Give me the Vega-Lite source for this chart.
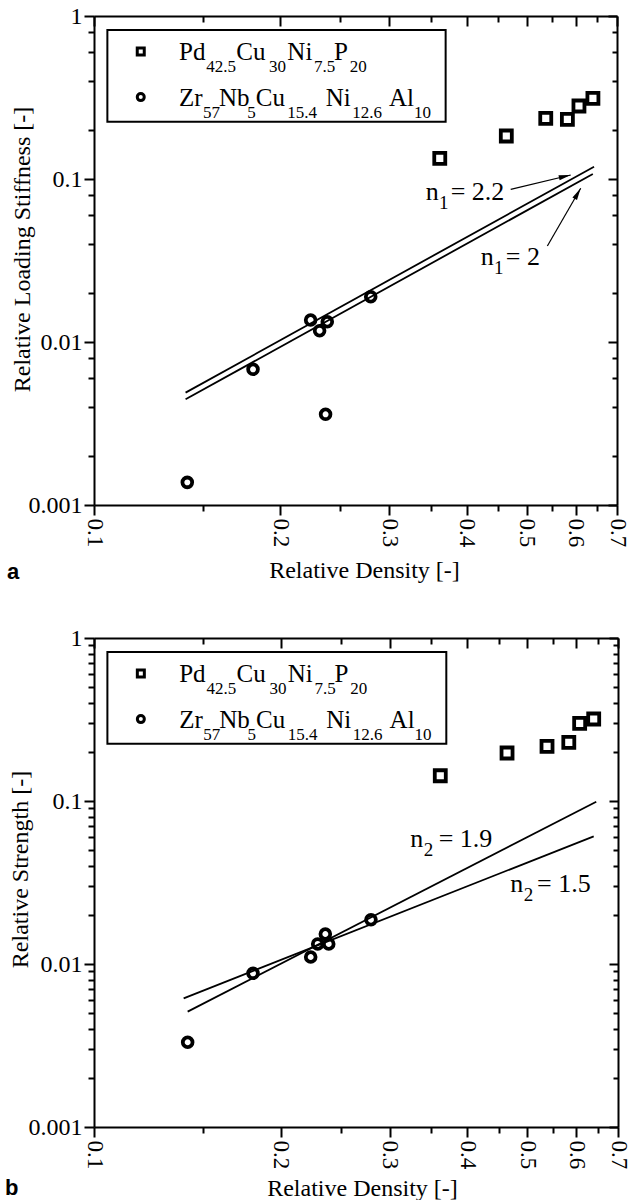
{
  "$schema": "https://vega.github.io/schema/vega-lite/v6.json",
  "padding": {"left": 5, "top": 4, "right": 5, "bottom": 0},
  "background": "white",
  "config": {
    "view": {"stroke": null},
    "font": "Liberation Serif",
    "style": {"guide-label": {"font": "Liberation Serif"}, "guide-title": {"font": "Liberation Serif"}},
    "axis": {"domainColor": "black", "domainWidth": 2, "tickColor": "black", "tickWidth": 2, "labelColor": "black", "titleColor": "black", "labelFont": "Liberation Serif", "titleFont": "Liberation Serif", "labelFontSize": 24, "titleFontSize": 24, "titleFontWeight": "normal", "grid": false, "labelFlush": false, "labelOverlap": false}
  },
  "datasets": {
    "ptsA": [
      {"alloy": "Pd", "x": 0.362, "y": 0.134}, {"alloy": "Pd", "x": 0.4637, "y": 0.1836}, {"alloy": "Pd", "x": 0.537, "y": 0.2357}, {"alloy": "Pd", "x": 0.582, "y": 0.2324}, {"alloy": "Pd", "x": 0.6076, "y": 0.2805}, {"alloy": "Pd", "x": 0.64, "y": 0.3126},
      {"alloy": "Zr", "x": 0.1415, "y": 0.001377}, {"alloy": "Zr", "x": 0.1807, "y": 0.0068}, {"alloy": "Zr", "x": 0.2239, "y": 0.01364}, {"alloy": "Zr", "x": 0.2315, "y": 0.01173}, {"alloy": "Zr", "x": 0.2382, "y": 0.01332}, {"alloy": "Zr", "x": 0.2367, "y": 0.0036}, {"alloy": "Zr", "x": 0.28, "y": 0.01897}
    ],
    "ptsB": [
      {"alloy": "Pd", "x": 0.3618, "y": 0.1429}, {"alloy": "Pd", "x": 0.4636, "y": 0.197}, {"alloy": "Pd", "x": 0.5378, "y": 0.2166}, {"alloy": "Pd", "x": 0.5831, "y": 0.2291}, {"alloy": "Pd", "x": 0.6071, "y": 0.2997}, {"alloy": "Pd", "x": 0.6396, "y": 0.3185},
      {"alloy": "Zr", "x": 0.1416, "y": 0.00331}, {"alloy": "Zr", "x": 0.1805, "y": 0.00877}, {"alloy": "Zr", "x": 0.2236, "y": 0.01104}, {"alloy": "Zr", "x": 0.2295, "y": 0.01327}, {"alloy": "Zr", "x": 0.2361, "y": 0.01528}, {"alloy": "Zr", "x": 0.2391, "y": 0.01327}, {"alloy": "Zr", "x": 0.2797, "y": 0.0187}
    ],
    "fitA": [
      {"n": "2.2", "x": 0.1406, "y": 0.00489}, {"n": "2.2", "x": 0.6427, "y": 0.119},
      {"n": "2", "x": 0.1406, "y": 0.00445}, {"n": "2", "x": 0.6398, "y": 0.1074}
    ],
    "fitB": [
      {"n": "1.9", "x": 0.1416, "y": 0.0051}, {"n": "1.9", "x": 0.6457, "y": 0.099},
      {"n": "1.5", "x": 0.1395, "y": 0.00616}, {"n": "1.5", "x": 0.6396, "y": 0.0607}
    ],
    "legBox": [{"x": 0.1051, "x2": 0.37, "y": 0.8206, "y2": 0.2246}],
    "legSym": [{"alloy": "Pd", "x": 0.119, "y": 0.605}, {"alloy": "Zr", "x": 0.119, "y": 0.318}],
    "legText": [
      {"t": "Pd", "sub": false, "x": 0.13719, "y": 0.537}, {"t": "42.5", "sub": true, "x": 0.15187, "y": 0.537},
      {"t": "Cu", "sub": false, "x": 0.16978, "y": 0.537}, {"t": "30", "sub": true, "x": 0.19181, "y": 0.537},
      {"t": "Ni", "sub": false, "x": 0.2053, "y": 0.537}, {"t": "7.5", "sub": true, "x": 0.22675, "y": 0.537},
      {"t": "P", "sub": false, "x": 0.24429, "y": 0.537}, {"t": "20", "sub": true, "x": 0.25895, "y": 0.537},
      {"t": "Zr", "sub": false, "x": 0.13719, "y": 0.2805}, {"t": "57", "sub": true, "x": 0.15002, "y": 0.2805},
      {"t": "Nb", "sub": false, "x": 0.15923, "y": 0.2805}, {"t": "5", "sub": true, "x": 0.17689, "y": 0.2805},
      {"t": "Cu", "sub": false, "x": 0.18252, "y": 0.2805}, {"t": "15.4", "sub": true, "x": 0.2053, "y": 0.2805},
      {"t": "Ni", "sub": false, "x": 0.23684, "y": 0.2805}, {"t": "12.6", "sub": true, "x": 0.26147, "y": 0.2805},
      {"t": "Al", "sub": false, "x": 0.29976, "y": 0.2805}, {"t": "10", "sub": true, "x": 0.32889, "y": 0.2805}
    ],
    "annA": [
      {"t": "n", "sub": false, "x": 0.34356, "y": 0.07434}, {"t": "1", "sub": true, "x": 0.36096, "y": 0.07434}, {"t": "= 2.2", "sub": false, "x": 0.37704, "y": 0.07434},
      {"t": "n", "sub": false, "x": 0.42159, "y": 0.02968}, {"t": "1", "sub": true, "x": 0.44295, "y": 0.02968}, {"t": "= 2", "sub": false, "x": 0.46269, "y": 0.02968}
    ],
    "annB": [
      {"t": "n", "sub": false, "x": 0.32366, "y": 0.05221}, {"t": "2", "sub": true, "x": 0.34017, "y": 0.05221}, {"t": "= 1.9", "sub": false, "x": 0.35966, "y": 0.05221},
      {"t": "n", "sub": false, "x": 0.46926, "y": 0.02765}, {"t": "2", "sub": true, "x": 0.49322, "y": 0.02765}, {"t": "= 1.5", "sub": false, "x": 0.51818, "y": 0.02765}
    ],
    "arrows": [
      {"id": 1, "x": 0.47135, "y": 0.08644, "x2": 0.58924, "y2": 0.10581},
      {"id": 2, "x": 0.54022, "y": 0.03881, "x2": 0.61157, "y2": 0.08768}
    ]
  },
  "vconcat": [
    {
      "width": 523,
      "height": 489,
      "title": {"text": "a", "orient": "bottom", "anchor": "start", "frame": "bounds", "font": "Liberation Sans", "fontWeight": "bold", "fontSize": 22, "baseline": "alphabetic", "offset": -3, "dx": -3, "color": "black"},
      "layer": [
        {
          "data": {"name": "fitA"},
          "mark": {"type": "line", "color": "black", "strokeWidth": 1.8},
          "encoding": {
            "x": {"field": "x", "type": "quantitative", "scale": {"type": "log", "domain": [0.1, 0.7], "nice": false},
              "axis": {"orient": "bottom", "values": [0.1, 0.15, 0.2, 0.25, 0.3, 0.35, 0.4, 0.45, 0.5, 0.55, 0.6, 0.65, 0.7],
                "labelExpr": "abs(datum.value*10 - round(datum.value*10)) < 0.01 ? format(datum.value, '.1f') : ''",
                "labelFont": "Liberation Serif", "titleFont": "Liberation Serif", "labelFontSize": 23, "titleFontSize": 24,
                "labelAngle": 90, "labelAlign": "left", "labelBaseline": "middle", "labelPadding": 3,
                "tickSize": {"condition": {"test": "abs(datum.value*10 - round(datum.value*10)) > 0.01", "value": 6}, "value": 10},
                "title": "Relative Density [-]", "titleX": 270, "titleY": 72, "titleBaseline": "alphabetic"}},
            "y": {"field": "y", "type": "quantitative", "scale": {"type": "log", "domain": [0.001, 1], "nice": false},
              "axis": {"orient": "left", "values": [0.001, 0.002, 0.004, 0.006, 0.008, 0.01, 0.02, 0.04, 0.06, 0.08, 0.1, 0.2, 0.4, 0.6, 0.8, 1],
                "format": "~g",
                "labelFont": "Liberation Serif", "titleFont": "Liberation Serif", "labelFontSize": 24, "titleFontSize": 24,
                "labelExpr": "abs(log(datum.value)/LN10 - round(log(datum.value)/LN10)) < 0.001 ? datum.label : ''",
                "labelPadding": 2,
                "tickSize": {"condition": {"test": "abs(log(datum.value)/LN10 - round(log(datum.value)/LN10)) > 0.001", "value": 6}, "value": 10},
                "title": "Relative Loading Stiffness [-]", "titleX": -60, "titleY": 233}},
            "detail": {"field": "n", "type": "nominal"}
          }
        },
        {
          "data": {"name": "ptsA"},
          "mark": {"type": "point", "filled": false, "color": "black", "strokeWidth": 3.8, "opacity": 1},
          "encoding": {
            "x": {"field": "x", "type": "quantitative",
              "axis": {"orient": "top", "values": [0.1, 0.15, 0.2, 0.25, 0.3, 0.35, 0.4, 0.45, 0.5, 0.55, 0.6, 0.65, 0.7], "labels": false, "title": null,
                "tickSize": {"condition": {"test": "abs(datum.value*10 - round(datum.value*10)) > 0.01", "value": -6}, "value": -10}}},
            "y": {"field": "y", "type": "quantitative",
              "axis": {"orient": "right", "values": [0.001, 0.002, 0.004, 0.006, 0.008, 0.01, 0.02, 0.04, 0.06, 0.08, 0.1, 0.2, 0.4, 0.6, 0.8, 1], "labels": false, "title": null,
                "tickSize": {"condition": {"test": "abs(log(datum.value)/LN10 - round(log(datum.value)/LN10)) > 0.001", "value": -5}, "value": -9}}},
            "shape": {"field": "alloy", "type": "nominal", "scale": {"domain": ["Pd", "Zr"], "range": ["square", "circle"]}, "legend": null},
            "size": {"field": "alloy", "type": "nominal", "scale": {"domain": ["Pd", "Zr"], "range": [121, 95]}, "legend": null}
          }
        },
        {
          "data": {"name": "legBox"},
          "mark": {"type": "rect", "fill": "white", "stroke": "black", "strokeWidth": 2},
          "encoding": {
            "x": {"field": "x", "type": "quantitative", "axis": null}, "x2": {"field": "x2"},
            "y": {"field": "y", "type": "quantitative", "axis": null}, "y2": {"field": "y2"}
          }
        },
        {
          "data": {"name": "legSym"},
          "mark": {"type": "point", "filled": false, "color": "black", "strokeWidth": 3, "opacity": 1},
          "encoding": {
            "x": {"field": "x", "type": "quantitative", "axis": null},
            "y": {"field": "y", "type": "quantitative", "axis": null},
            "shape": {"field": "alloy", "type": "nominal", "legend": null},
            "size": {"value": 49}
          }
        },
        {
          "data": {"name": "legText"},
          "transform": [{"filter": "!datum.sub"}],
          "mark": {"type": "text", "align": "left", "baseline": "alphabetic", "font": "Liberation Serif", "fontSize": 25, "color": "black"},
          "encoding": {
            "x": {"field": "x", "type": "quantitative", "axis": null},
            "y": {"field": "y", "type": "quantitative", "axis": null},
            "text": {"field": "t"}
          }
        },
        {
          "data": {"name": "legText"},
          "transform": [{"filter": "datum.sub"}],
          "mark": {"type": "text", "align": "left", "baseline": "alphabetic", "font": "Liberation Serif", "fontSize": 17, "dy": 12, "color": "black"},
          "encoding": {
            "x": {"field": "x", "type": "quantitative", "axis": null},
            "y": {"field": "y", "type": "quantitative", "axis": null},
            "text": {"field": "t"}
          }
        },
        {
          "data": {"name": "annA"},
          "transform": [{"filter": "!datum.sub"}],
          "mark": {"type": "text", "align": "left", "baseline": "alphabetic", "font": "Liberation Serif", "fontSize": 26, "color": "black"},
          "encoding": {
            "x": {"field": "x", "type": "quantitative", "axis": null},
            "y": {"field": "y", "type": "quantitative", "axis": null},
            "text": {"field": "t"}
          }
        },
        {
          "data": {"name": "annA"},
          "transform": [{"filter": "datum.sub"}],
          "mark": {"type": "text", "align": "left", "baseline": "alphabetic", "font": "Liberation Serif", "fontSize": 19, "dy": 9, "color": "black"},
          "encoding": {
            "x": {"field": "x", "type": "quantitative", "axis": null},
            "y": {"field": "y", "type": "quantitative", "axis": null},
            "text": {"field": "t"}
          }
        },
        {
          "data": {"name": "arrows"},
          "mark": {"type": "rule", "color": "black", "strokeWidth": 1.2},
          "encoding": {
            "x": {"field": "x", "type": "quantitative", "axis": null}, "x2": {"field": "x2"},
            "y": {"field": "y", "type": "quantitative", "axis": null}, "y2": {"field": "y2"}
          }
        },
        {
          "data": {"name": "arrows"},
          "transform": [{"filter": "datum.id == 1"}],
          "mark": {"type": "point", "shape": "M0,0L-1,-0.22L-1,0.22Z", "filled": true, "color": "black", "size": 576, "angle": 346.6, "opacity": 1},
          "encoding": {
            "x": {"field": "x2", "type": "quantitative", "axis": null},
            "y": {"field": "y2", "type": "quantitative", "axis": null}
          }
        },
        {
          "data": {"name": "arrows"},
          "transform": [{"filter": "datum.id == 2"}],
          "mark": {"type": "point", "shape": "M0,0L-1,-0.22L-1,0.22Z", "filled": true, "color": "black", "size": 576, "angle": 300, "opacity": 1},
          "encoding": {
            "x": {"field": "x2", "type": "quantitative", "axis": null},
            "y": {"field": "y2", "type": "quantitative", "axis": null}
          }
        }
      ]
    },
    {
      "width": 524,
      "height": 489,
      "title": {"text": "b", "orient": "bottom", "anchor": "start", "frame": "bounds", "font": "Liberation Sans", "fontWeight": "bold", "fontSize": 22, "baseline": "alphabetic", "offset": -5, "dx": -3, "color": "black"},
      "layer": [
        {
          "data": {"name": "fitB"},
          "mark": {"type": "line", "color": "black", "strokeWidth": 1.8},
          "encoding": {
            "x": {"field": "x", "type": "quantitative", "scale": {"type": "log", "domain": [0.1, 0.7], "nice": false},
              "axis": {"orient": "bottom", "values": [0.1, 0.15, 0.2, 0.25, 0.3, 0.35, 0.4, 0.45, 0.5, 0.55, 0.6, 0.65, 0.7],
                "labelExpr": "abs(datum.value*10 - round(datum.value*10)) < 0.01 ? format(datum.value, '.1f') : ''",
                "labelFont": "Liberation Serif", "titleFont": "Liberation Serif", "labelFontSize": 23, "titleFontSize": 24,
                "labelAngle": 90, "labelAlign": "left", "labelBaseline": "middle", "labelPadding": 3,
                "tickSize": {"condition": {"test": "abs(datum.value*10 - round(datum.value*10)) > 0.01", "value": 6}, "value": 10},
                "title": "Relative Density [-]", "titleX": 268, "titleY": 68, "titleBaseline": "alphabetic"}},
            "y": {"field": "y", "type": "quantitative", "scale": {"type": "log", "domain": [0.001, 1], "nice": false},
              "axis": {"orient": "left", "values": [0.001, 0.002, 0.003, 0.004, 0.005, 0.006, 0.007, 0.008, 0.009, 0.01, 0.02, 0.03, 0.04, 0.05, 0.06, 0.07, 0.08, 0.09, 0.1, 0.2, 0.3, 0.4, 0.5, 0.6, 0.7, 0.8, 0.9, 1],
                "format": "~g",
                "labelFont": "Liberation Serif", "titleFont": "Liberation Serif", "labelFontSize": 24, "titleFontSize": 24,
                "labelExpr": "abs(log(datum.value)/LN10 - round(log(datum.value)/LN10)) < 0.001 ? datum.label : ''",
                "labelPadding": 2,
                "tickSize": {"condition": {"test": "abs(log(datum.value)/LN10 - round(log(datum.value)/LN10)) > 0.001", "value": 6}, "value": 10},
                "title": "Relative Strength [-]", "titleX": -62, "titleY": 231}},
            "detail": {"field": "n", "type": "nominal"}
          }
        },
        {
          "data": {"name": "ptsB"},
          "mark": {"type": "point", "filled": false, "color": "black", "strokeWidth": 3.8, "opacity": 1},
          "encoding": {
            "x": {"field": "x", "type": "quantitative",
              "axis": {"orient": "top", "values": [0.1, 0.15, 0.2, 0.25, 0.3, 0.35, 0.4, 0.45, 0.5, 0.55, 0.6, 0.65, 0.7], "labels": false, "title": null,
                "tickSize": {"condition": {"test": "abs(datum.value*10 - round(datum.value*10)) > 0.01", "value": -6}, "value": -10}}},
            "y": {"field": "y", "type": "quantitative",
              "axis": {"orient": "right", "values": [0.001, 0.002, 0.003, 0.004, 0.005, 0.006, 0.007, 0.008, 0.009, 0.01, 0.02, 0.03, 0.04, 0.05, 0.06, 0.07, 0.08, 0.09, 0.1, 0.2, 0.3, 0.4, 0.5, 0.6, 0.7, 0.8, 0.9, 1], "labels": false, "title": null,
                "tickSize": {"condition": {"test": "abs(log(datum.value)/LN10 - round(log(datum.value)/LN10)) > 0.001", "value": -5}, "value": -9}}},
            "shape": {"field": "alloy", "type": "nominal", "scale": {"domain": ["Pd", "Zr"], "range": ["square", "circle"]}, "legend": null},
            "size": {"field": "alloy", "type": "nominal", "scale": {"domain": ["Pd", "Zr"], "range": [121, 95]}, "legend": null}
          }
        },
        {
          "data": {"name": "legBox"},
          "mark": {"type": "rect", "fill": "white", "stroke": "black", "strokeWidth": 2},
          "encoding": {
            "x": {"field": "x", "type": "quantitative", "axis": null}, "x2": {"field": "x2"},
            "y": {"field": "y", "type": "quantitative", "axis": null}, "y2": {"field": "y2"}
          }
        },
        {
          "data": {"name": "legSym"},
          "mark": {"type": "point", "filled": false, "color": "black", "strokeWidth": 3, "opacity": 1},
          "encoding": {
            "x": {"field": "x", "type": "quantitative", "axis": null},
            "y": {"field": "y", "type": "quantitative", "axis": null},
            "shape": {"field": "alloy", "type": "nominal", "legend": null},
            "size": {"value": 49}
          }
        },
        {
          "data": {"name": "legText"},
          "transform": [{"filter": "!datum.sub"}],
          "mark": {"type": "text", "align": "left", "baseline": "alphabetic", "font": "Liberation Serif", "fontSize": 25, "color": "black"},
          "encoding": {
            "x": {"field": "x", "type": "quantitative", "axis": null},
            "y": {"field": "y", "type": "quantitative", "axis": null},
            "text": {"field": "t"}
          }
        },
        {
          "data": {"name": "legText"},
          "transform": [{"filter": "datum.sub"}],
          "mark": {"type": "text", "align": "left", "baseline": "alphabetic", "font": "Liberation Serif", "fontSize": 17, "dy": 12, "color": "black"},
          "encoding": {
            "x": {"field": "x", "type": "quantitative", "axis": null},
            "y": {"field": "y", "type": "quantitative", "axis": null},
            "text": {"field": "t"}
          }
        },
        {
          "data": {"name": "annB"},
          "transform": [{"filter": "!datum.sub"}],
          "mark": {"type": "text", "align": "left", "baseline": "alphabetic", "font": "Liberation Serif", "fontSize": 26, "color": "black"},
          "encoding": {
            "x": {"field": "x", "type": "quantitative", "axis": null},
            "y": {"field": "y", "type": "quantitative", "axis": null},
            "text": {"field": "t"}
          }
        },
        {
          "data": {"name": "annB"},
          "transform": [{"filter": "datum.sub"}],
          "mark": {"type": "text", "align": "left", "baseline": "alphabetic", "font": "Liberation Serif", "fontSize": 19, "dy": 9, "color": "black"},
          "encoding": {
            "x": {"field": "x", "type": "quantitative", "axis": null},
            "y": {"field": "y", "type": "quantitative", "axis": null},
            "text": {"field": "t"}
          }
        }
      ]
    }
  ],
  "spacing": 43
}
